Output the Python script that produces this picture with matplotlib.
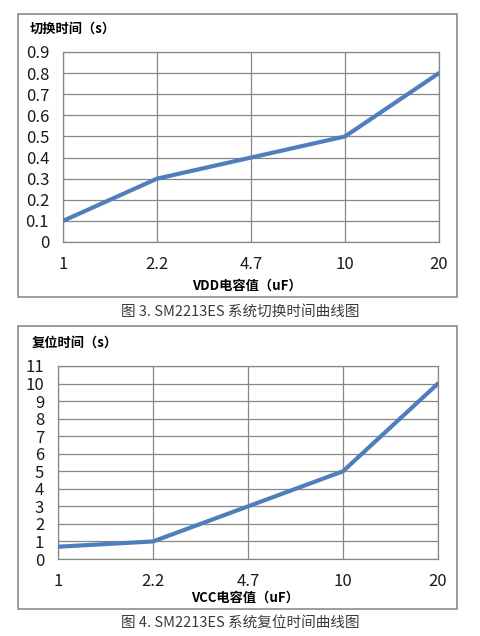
import matplotlib
matplotlib.use('Agg')
import matplotlib.pyplot as plt
from matplotlib.patches import Rectangle

plt.rcParams['font.family'] = ['Noto Sans CJK SC', 'DejaVu Sans']

# shared categories (capacitance, uF)
caps = ['1', '2.2', '4.7', '10', '20']

# chart 1: switching time
switch_time = [0.1, 0.3, 0.4, 0.5, 0.8]
switch_ticks = [0, 0.1, 0.2, 0.3, 0.4, 0.5, 0.6, 0.7, 0.8, 0.9]
switch_ticklabels = ['0', '0.1', '0.2', '0.3', '0.4', '0.5', '0.6', '0.7', '0.8', '0.9']

# chart 2: reset time
reset_time = [0.7, 1.0, 3.0, 5.0, 10.0]
reset_ticks = list(range(0, 12))

W, H = 481, 636
fig = plt.figure(figsize=(W / 100, H / 100), dpi=100)
fig.patch.set_facecolor('white')

GRID = '#878787'
LINE = '#4F7FBA'


def px_box(x0, y0, x1, y1):
    # pixel coords (top-left origin) -> figure fraction rect
    return [x0 / W, (H - y1) / H, (x1 - x0) / W, (y1 - y0) / H]


def frame(x0, y0, x1, y1):
    r = Rectangle((x0 / W, (H - y1) / H), (x1 - x0) / W, (y1 - y0) / H,
                  transform=fig.transFigure, fill=False, edgecolor='#8c8c8c', lw=1.2)
    fig.patches.append(r)


def draw_chart(rect, values, ticks, ticklabels, ymax, ylabel, ylabel_xy, xlabel, xlabel_xy):
    ax = fig.add_axes(px_box(*rect))
    x = list(range(len(caps)))
    ax.plot(x, values, color=LINE, lw=3, solid_capstyle='round', zorder=3)
    ax.set_xlim(0, len(caps) - 1)
    ax.set_ylim(0, ymax)
    ax.set_xticks(x)
    ax.set_xticklabels(caps)
    ax.set_yticks(ticks)
    ax.set_yticklabels(ticklabels)
    ax.tick_params(length=0, labelsize=12, labelcolor='#1a1a1a')
    ax.tick_params(axis='y', pad=10)
    ax.tick_params(axis='x', pad=10)
    ax.grid(True, color=GRID, lw=0.9)
    for s in ax.spines.values():
        s.set_color(GRID)
        s.set_linewidth(0.9)
    ax.set_axisbelow(True)
    fig.text(ylabel_xy[0] / W, 1 - ylabel_xy[1] / H, ylabel, fontsize=9.5,
             fontweight='bold', ha='left', va='center')
    fig.text(xlabel_xy[0] / W, 1 - xlabel_xy[1] / H, xlabel, fontsize=9.5,
             fontweight='bold', ha='center', va='center')
    return ax


# top chart
frame(18, 14, 457, 297)
draw_chart((63, 52, 439, 242), switch_time, switch_ticks, switch_ticklabels, 0.9,
           '切换时间（s）', (30, 29), 'VDD电容值（uF）', (247, 286))
fig.text(240 / W, 1 - 312 / H, '图 3. SM2213ES 系统切换时间曲线图', fontsize=10.5,
         color='#3a3a3a', ha='center', va='center')

# bottom chart
frame(18, 326, 457, 609)
draw_chart((58, 366, 438, 559), reset_time, reset_ticks, [str(t) for t in reset_ticks], 11,
           '复位时间（s）', (32, 343), 'VCC电容值（uF）', (245, 598))
fig.text(240 / W, 1 - 624 / H, '图 4. SM2213ES 系统复位时间曲线图', fontsize=10.5,
         color='#3a3a3a', ha='center', va='center')

fig.savefig('out.png', dpi=100, facecolor='white')
